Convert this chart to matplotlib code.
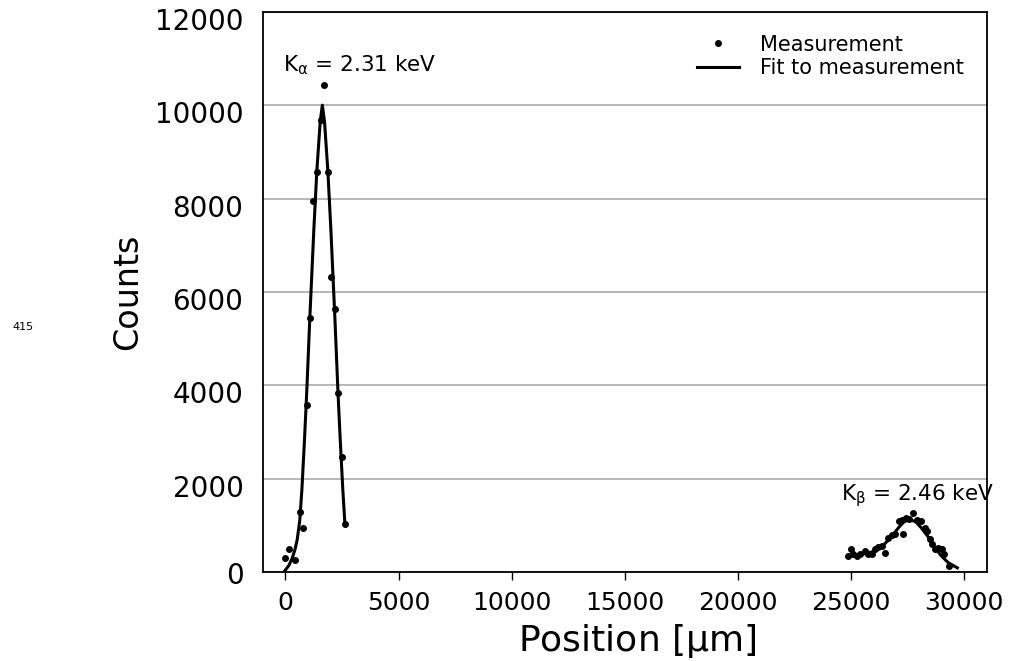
import numpy as np
import matplotlib.pyplot as plt
from matplotlib.transforms import ScaledTranslation

# measured points, K-alpha peak
ka_pos = [0, 146, 442, 620, 783, 943, 1075, 1209, 1400, 1580, 1695, 1873,
          1991, 2181, 2314, 2478, 2625]
ka_counts = [294, 486, 251, 1280, 933, 3581, 5434, 7940, 8560, 9680, 10440,
             8560, 6328, 5640, 3836, 2473, 1025]

# measured points, K-beta peak
kb_pos = [24880, 25000, 25100, 25250, 25400, 25620, 25770, 25920, 26060, 26180,
          26360, 26510, 26650, 26800, 26950, 27100, 27250, 27320, 27430, 27570,
          27760, 27910, 28100, 28250, 28350, 28500, 28600, 28720, 28860, 29040,
          29130, 29310]
kb_counts = [343, 486, 379, 343, 379, 450, 394, 394, 486, 535,
             556, 415, 735, 790, 805, 1090, 1125, 805, 1160, 1145,
             1267, 1125, 1090, 948, 876, 700, 592, 486, 522, 486,
             394, 130]

# fit curves
ka_fit_pos = [-40, 150, 300, 420, 520, 630, 725, 840, 940, 1075, 1250, 1385,
              1535, 1630, 1725, 1875, 2010, 2185, 2320, 2420, 2535, 2625]
ka_fit = [20, 140, 300, 480, 700, 1100, 1760, 2830, 3860, 5430, 7300, 8580,
          9650, 10000, 9650, 8580, 7300, 5430, 3860, 2830, 1760, 1050]

kb_fit_pos = [24900, 25500, 26000, 26400, 26800, 27100, 27350, 27600, 27850,
              28100, 28400, 28700, 29000, 29300, 29700]
kb_fit = [330, 380, 440, 560, 760, 950, 1080, 1120, 1080,
          950, 760, 530, 340, 200, 90]

x_ticks = [0, 5000, 10000, 15000, 20000, 25000, 30000]
y_ticks = [0, 2000, 4000, 6000, 8000, 10000, 12000]

fig = plt.figure(figsize=(10.11, 6.61), dpi=100)
ax = fig.add_axes([0.260, 0.1346, 0.716, 0.8476])

ax.plot(ka_fit_pos, ka_fit, color='black', lw=2.2, label='Fit to measurement')
ax.plot(kb_fit_pos, kb_fit, color='black', lw=2.2)
ax.plot(ka_pos, ka_counts, 'o', color='black', ms=4, label='Measurement')
ax.plot(kb_pos, kb_counts, 'o', color='black', ms=4)

ax.set_xlim(-1000, 31000)
ax.set_ylim(0, 12000)
ax.set_xticks(x_ticks)
ax.set_yticks(y_ticks)
ax.yaxis.grid(True, color='#aaaaaa', lw=1.2)
ax.set_axisbelow(True)

ax.tick_params(axis='x', direction='out', length=6, width=1, labelsize=18, pad=8)
ax.tick_params(axis='y', length=0, labelsize=20, pad=14)
for lab, v in zip(ax.get_yticklabels(), y_ticks):
    dy = -0.01 if v == 0 else -0.07
    lab.set_transform(lab.get_transform() + ScaledTranslation(0, dy, fig.dpi_scale_trans))
for sp in ax.spines.values():
    sp.set_linewidth(1.3)

ax.set_xlabel('Position [$\\mathregular{μ}$m]', fontsize=26)
ax.xaxis.set_label_coords(0.517, -0.09)
ax.set_ylabel('Counts', fontsize=24, labelpad=8)

ax.text(-130, 10860, 'K$_{\\mathregular{α}}$ = 2.31 keV', fontsize=15.5, va='center')
ax.text(24560, 1640, 'K$_{\\mathregular{β}}$ = 2.46 keV', fontsize=15.5, va='center')

h, l = ax.get_legend_handles_labels()
ax.legend(h[::-1], l[::-1], loc='upper right', frameon=False, fontsize=15,
          handlelength=2.0, handletextpad=1.0, borderaxespad=0.7,
          labelspacing=0.15)

fig.text(0.012, 0.5, '415', fontsize=8)

fig.savefig('out.png', dpi=100)
